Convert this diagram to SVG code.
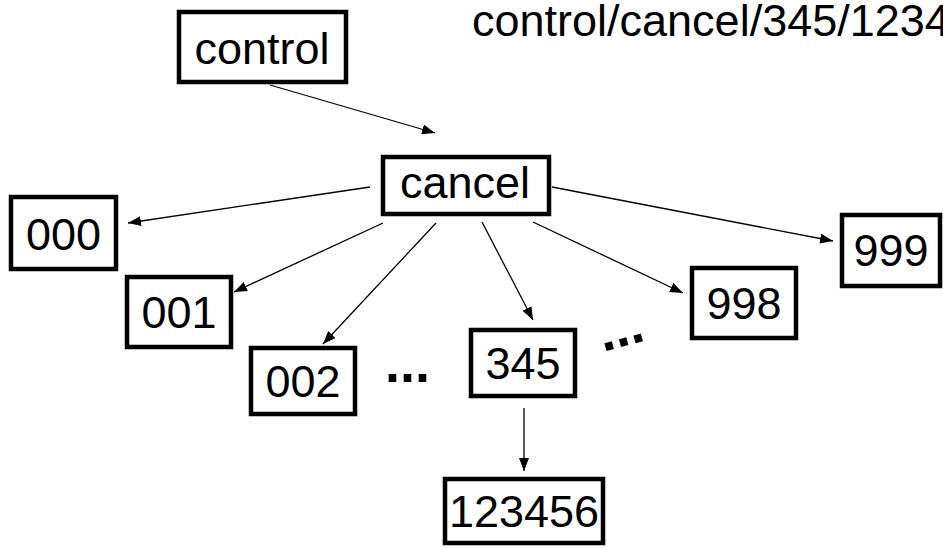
<svg xmlns="http://www.w3.org/2000/svg" width="943" height="549" viewBox="0 0 943 549">
<style>
.box{fill:#fff;stroke:#000;stroke-width:4.5}
.lbl{font-family:"Liberation Sans",Arial,sans-serif;font-size:45px;fill:#000;text-anchor:middle}
.edge{stroke:#000;stroke-width:1.3;fill:none;marker-end:url(#ah)}
.dots{font-family:"Liberation Sans",Arial,sans-serif;font-size:54px;font-weight:bold;fill:#000}
</style>
<defs>
<marker id="ah" markerUnits="userSpaceOnUse" markerWidth="14" markerHeight="10" refX="13" refY="5" orient="auto">
<path d="M0,0 L13,5 L0,10 z" fill="#000"/>
</marker>
</defs>
<rect width="943" height="549" fill="#fff"/>
<text x="472" y="36" font-family="Liberation Sans,Arial,sans-serif" font-size="45" fill="#000">control/cancel/345/123456</text>
<g id="connectors">
<line class="edge" x1="270" y1="85" x2="435" y2="133"/>
<line class="edge" x1="370" y1="187" x2="128" y2="223"/>
<line class="edge" x1="383" y1="223" x2="234" y2="292"/>
<line class="edge" x1="436" y1="223" x2="323" y2="344"/>
<line class="edge" x1="482" y1="222" x2="533" y2="320"/>
<line class="edge" x1="533" y1="222" x2="683" y2="293"/>
<line class="edge" x1="552" y1="187" x2="833" y2="241"/>
<line class="edge" x1="524" y1="408" x2="524" y2="471"/>
</g>
<g id="control"><rect class="box" x="179" y="12" width="167" height="70"/><text class="lbl" x="262" y="64">control</text></g>
<g id="cancel"><rect class="box" x="383" y="157" width="166" height="57"/><text class="lbl" x="465" y="198">cancel</text></g>
<g id="n000"><rect class="box" x="11" y="197" width="105" height="72"/><text class="lbl" x="63.5" y="250">000</text></g>
<g id="n001"><rect class="box" x="127" y="277" width="104" height="70"/><text class="lbl" x="179" y="328">001</text></g>
<g id="n002"><rect class="box" x="251" y="348" width="104" height="66"/><text class="lbl" x="303" y="397">002</text></g>
<g id="n345"><rect class="box" x="471" y="330" width="104" height="66"/><text class="lbl" x="523" y="379">345</text></g>
<g id="n998"><rect class="box" x="692" y="268" width="104" height="70"/><text class="lbl" x="744" y="319">998</text></g>
<g id="n999"><rect class="box" x="842" y="215" width="98" height="71"/><text class="lbl" x="891" y="266">999</text></g>
<g id="n123456"><rect class="box" x="445" y="479" width="158" height="64"/><text class="lbl" x="524" y="527">123456</text></g>
<text class="dots" x="385" y="382">...</text>
<text class="dots" x="603" y="352" transform="rotate(-15 603 352)">...</text>
</svg>
